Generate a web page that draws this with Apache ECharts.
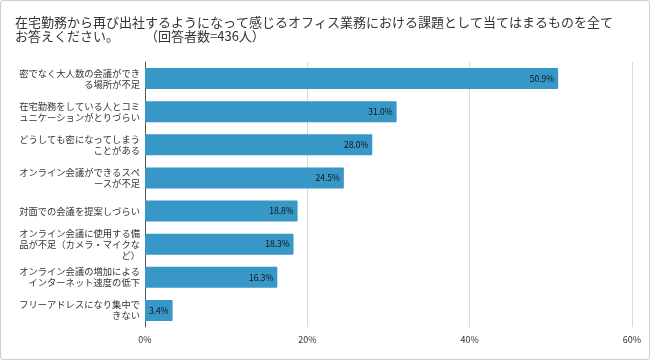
<!DOCTYPE html>
<html><head><meta charset="utf-8">
<script src="https://cdn.jsdelivr.net/npm/echarts@6/dist/echarts.min.js"></script>
<style>html,body{margin:0;padding:0;background:#fff}
#c{width:648px;height:358px;border:1px solid #cfcfcf;border-radius:3px}</style>
</head><body><div id="c"></div>
<script>
const categories = [
 "密でなく大人数の会議ができ\nる場所が不足",
 "在宅勤務をしている人とコミ\nュニケーションがとりづらい",
 "どうしても密になってしまう\nことがある",
 "オンライン会議ができるスペ\nースが不足",
 "対面での会議を提案しづらい",
 "オンライン会議に使用する備\n品が不足（カメラ・マイクな\nど）",
 "オンライン会議の増加による\nインターネット速度の低下",
 "フリーアドレスになり集中で\nきない"
];
const values = [50.9, 31.0, 28.0, 24.5, 18.8, 18.3, 16.3, 3.4];
const xTicks = [0, 20, 40, 60];
const font = "'Noto Sans CJK JP', sans-serif";
const chart = echarts.init(document.getElementById('c'));
chart.setOption({
  animation: false,
  title: {
    text: "在宅勤務から再び出社するようになって感じるオフィス業務における課題として当てはまるものを全て\nお答えください。　　　（回答者数=436人）",
    left: 9, top: 9,
    textStyle: {fontSize: 13, fontWeight: 'normal', color: '#333', fontFamily: font, lineHeight: 14}
  },
  grid: {left: 144, right: 17, top: 61, bottom: 32},
  xAxis: {
    type: 'value', min: 0, max: 60, interval: 20,
    axisLabel: {formatter: v => xTicks.includes(v) ? v + '%' : '', fontSize: 9, color: '#333', fontFamily: font, margin: 8},
    splitLine: {lineStyle: {color: '#d9d9d9'}},
    axisLine: {show: false}, axisTick: {show: false}
  },
  yAxis: {
    type: 'category', data: categories, inverse: true,
    axisLine: {show: true, lineStyle: {color: '#555'}},
    axisTick: {show: false},
    axisLabel: {fontSize: 9.3, color: '#333', fontFamily: font, lineHeight: 11, margin: 5, align: 'right'}
  },
  series: [{
    type: 'bar', data: values, barWidth: 21,
    itemStyle: {color: '#3797c6', borderRadius: 1},
    label: {show: true, position: 'insideRight', formatter: p => p.value.toFixed(1) + '%', fontSize: 8.5, color: '#111', fontFamily: font, distance: 4}
  }]
});
</script></body></html>
